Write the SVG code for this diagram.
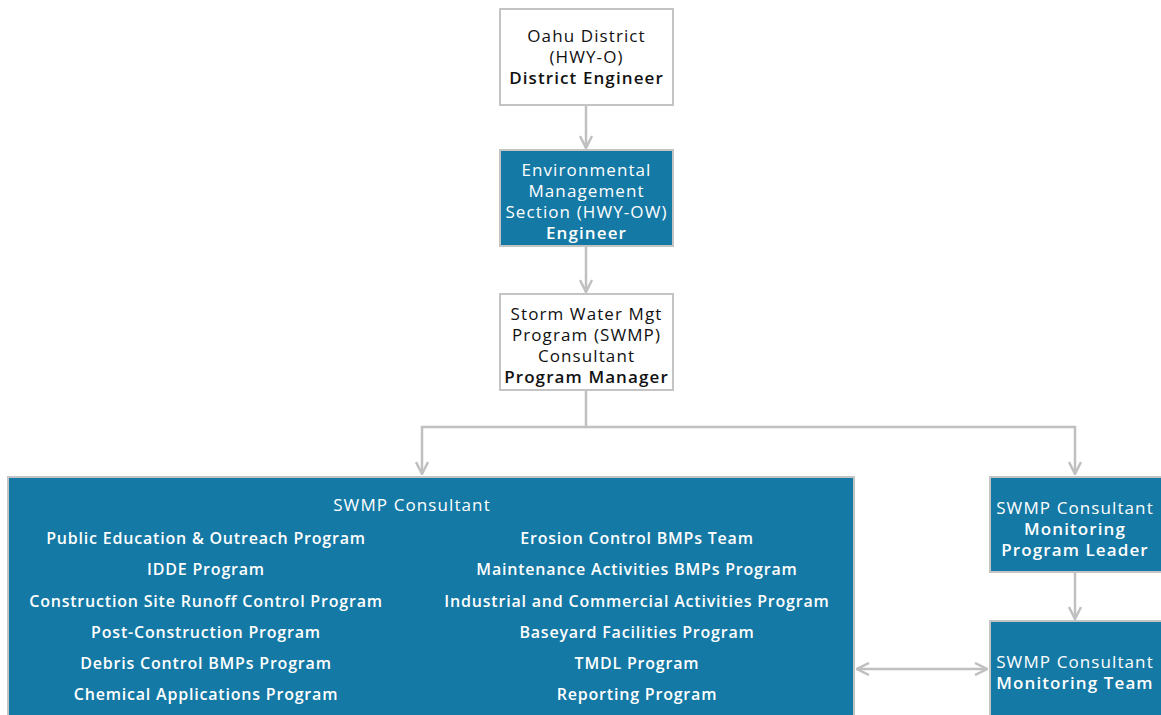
<svg xmlns="http://www.w3.org/2000/svg" width="1161" height="715" viewBox="0 0 1161 715">
<style>
.box{stroke:#c4c4c4;stroke-width:2}
.w{fill:#ffffff}
.b{fill:#1479a5}
.t{font-family:"Open Sans","Noto Sans",sans-serif;font-size:17px;letter-spacing:1.1px;text-anchor:middle}
.dk{fill:#111111}
.lt{fill:#ffffff}
.bold{font-weight:600}
.list{font-family:"Open Sans","Noto Sans",sans-serif;font-size:16px;letter-spacing:0.8px;font-weight:600;text-anchor:middle;fill:#ffffff}
.c{fill:none;stroke:#c0c0c0;stroke-width:2.5}
</style>
<defs>
<marker id="ah" viewBox="0 0 14 14" refX="13" refY="7" markerWidth="14" markerHeight="14" markerUnits="userSpaceOnUse" orient="auto-start-reverse">
<path d="M1,1 L13,7 L1,13" fill="none" stroke="#c0c0c0" stroke-width="2.5"/>
</marker>
</defs>
<rect width="1161" height="715" fill="#ffffff"/>
<g id="connectors">
<line class="c" x1="586" y1="105" x2="586" y2="148" marker-end="url(#ah)"/>
<line class="c" x1="586" y1="247" x2="586" y2="292" marker-end="url(#ah)"/>
<polyline class="c" points="586,391 586,427 422,427 422,474" marker-end="url(#ah)"/>
<polyline class="c" points="586,427 1075,427 1075,474" marker-end="url(#ah)"/>
<line class="c" x1="1075" y1="573" x2="1075" y2="619" marker-end="url(#ah)"/>
<line class="c" x1="857" y1="669" x2="987" y2="669" marker-start="url(#ah)" marker-end="url(#ah)"/>
</g>
<g id="oahu">
<rect class="box w" x="500" y="9" width="173" height="96"/>
<text class="t dk" x="586.5" y="42">Oahu District</text>
<text class="t dk" x="586.5" y="63">(HWY-O)</text>
<text class="t dk bold" x="586.5" y="84">District Engineer</text>
</g>
<g id="env">
<rect class="box b" x="500" y="150" width="173" height="96"/>
<text class="t lt" x="586.5" y="176">Environmental</text>
<text class="t lt" x="586.5" y="197">Management</text>
<text class="t lt" x="586.5" y="218">Section (HWY-OW)</text>
<text class="t lt bold" x="586.5" y="239">Engineer</text>
</g>
<g id="swmp">
<rect class="box w" x="500" y="294" width="173" height="96"/>
<text class="t dk" x="586.5" y="320">Storm Water Mgt</text>
<text class="t dk" x="586.5" y="341">Program (SWMP)</text>
<text class="t dk" x="586.5" y="362">Consultant</text>
<text class="t dk bold" x="586.5" y="383">Program Manager</text>
</g>
<g id="consultant">
<rect class="box b" x="8" y="477" width="846" height="250"/>
<text class="t lt" x="412" y="511">SWMP Consultant</text>
<text class="list" x="206" y="544">Public Education &amp; Outreach Program</text>
<text class="list" x="206" y="575">IDDE Program</text>
<text class="list" x="206" y="607">Construction Site Runoff Control Program</text>
<text class="list" x="206" y="638">Post-Construction Program</text>
<text class="list" x="206" y="669">Debris Control BMPs Program</text>
<text class="list" x="206" y="700">Chemical Applications Program</text>
<text class="list" x="637" y="544">Erosion Control BMPs Team</text>
<text class="list" x="637" y="575">Maintenance Activities BMPs Program</text>
<text class="list" x="637" y="607">Industrial and Commercial Activities Program</text>
<text class="list" x="637" y="638">Baseyard Facilities Program</text>
<text class="list" x="637" y="669">TMDL Program</text>
<text class="list" x="637" y="700">Reporting Program</text>
</g>
<g id="leader">
<rect class="box b" x="990" y="477" width="180" height="95"/>
<text class="t lt" x="1075" y="514">SWMP Consultant</text>
<text class="t lt bold" x="1075" y="535">Monitoring</text>
<text class="t lt bold" x="1075" y="556">Program Leader</text>
</g>
<g id="team">
<rect class="box b" x="990" y="621" width="180" height="110"/>
<text class="t lt" x="1075" y="668">SWMP Consultant</text>
<text class="t lt bold" x="1075" y="689">Monitoring Team</text>
</g>
</svg>
